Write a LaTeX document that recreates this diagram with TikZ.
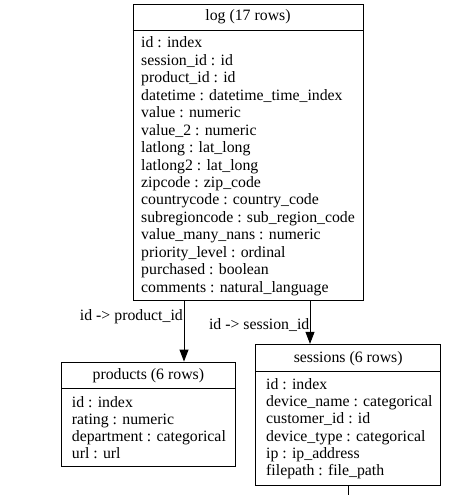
\documentclass[tikz,border=0pt]{standalone}
\usepackage{fontspec}
\setmainfont{Liberation Serif}
\usetikzlibrary{arrows.meta}
\begin{document}
\begin{tikzpicture}[x=1pt,y=-1pt,
  tbl/.style={draw,line width=0.9pt,inner sep=0pt},
  row/.style={anchor=base west,inner sep=0pt,font=\fontsize{15.8}{17.4}\selectfont},
  hdr/.style={anchor=base,inner sep=0pt,font=\fontsize{15.8}{17.4}\selectfont},
  lbl/.style={anchor=base east,inner sep=0pt,font=\fontsize{15.8}{17.4}\selectfont},
  sep/.style={line width=0.9pt},
  arr/.style={line width=0.9pt,-{Triangle[length=12pt,width=9pt]}}]
\useasboundingbox (0,0) rectangle (467,495);
% tables
\node[tbl,minimum width=230pt,minimum height=296pt] (log) at (248,152) {};
\node[tbl,minimum width=173.3pt,minimum height=104.7pt] (products) at (148.35,414.35) {};
\node[tbl,minimum width=185pt,minimum height=140.7pt] (sessions) at (348.2,414.65) {};
% separators
\coordinate (logsep) at (0,30.5);
\coordinate (prodsep) at (0,388);
\coordinate (sesssep) at (0,371);
\draw[sep] (log.west |- logsep) -- (log.east |- logsep);
\draw[sep] (products.west |- prodsep) -- (products.east |- prodsep);
\draw[sep] (sessions.west |- sesssep) -- (sessions.east |- sesssep);
% headers
\node[hdr] (loghdr) at (248,21) {log (17 rows)};
\node[hdr] (prodhdr) at (148.35,379.5) {products (6 rows)};
\node[hdr] (sesshdr) at (348.2,362) {sessions (6 rows)};
% log rows
\foreach \t [count=\i from 0] in {id : index,session\_id : id,product\_id : id,datetime : datetime\_time\_index,value : numeric,value\_2 : numeric,latlong : lat\_long,latlong2 : lat\_long,zipcode : zip\_code,countrycode : country\_code,subregioncode : sub\_region\_code,value\_many\_nans : numeric,priority\_level : ordinal,purchased : boolean,comments : natural\_language}
  \node[row] (logrow\i) at (141,{48+17.43*\i}) {\t};
% products rows
\foreach \t [count=\i from 0] in {id : index,rating : numeric,department : categorical,url : url}
  \node[row] (prodrow\i) at (71.7,{407+17*\i}) {\t};
% sessions rows
\foreach \t [count=\i from 0] in {id : index,device\_name : categorical,customer\_id : id,device\_type : categorical,ip : ip\_address,filepath : file\_path}
  \node[row] (sessrow\i) at (266,{389.5+17.2*\i}) {\t};
% connectors
\coordinate (pcol) at (184,0);
\coordinate (scol) at (310,0);
\draw[arr] (log.south -| pcol) -- (products.north -| pcol);
\draw[arr] (log.south -| scol) -- (sessions.north -| scol);
\coordinate (offend) at (348.2,495);
\draw[sep] (sessions.south) -- (offend);
% labels
\node[lbl] (l1) at (183,320.5) {id -> product\_id};
\node[lbl] (l2) at (309.5,329.5) {id -> session\_id};
\end{tikzpicture}
\end{document}
